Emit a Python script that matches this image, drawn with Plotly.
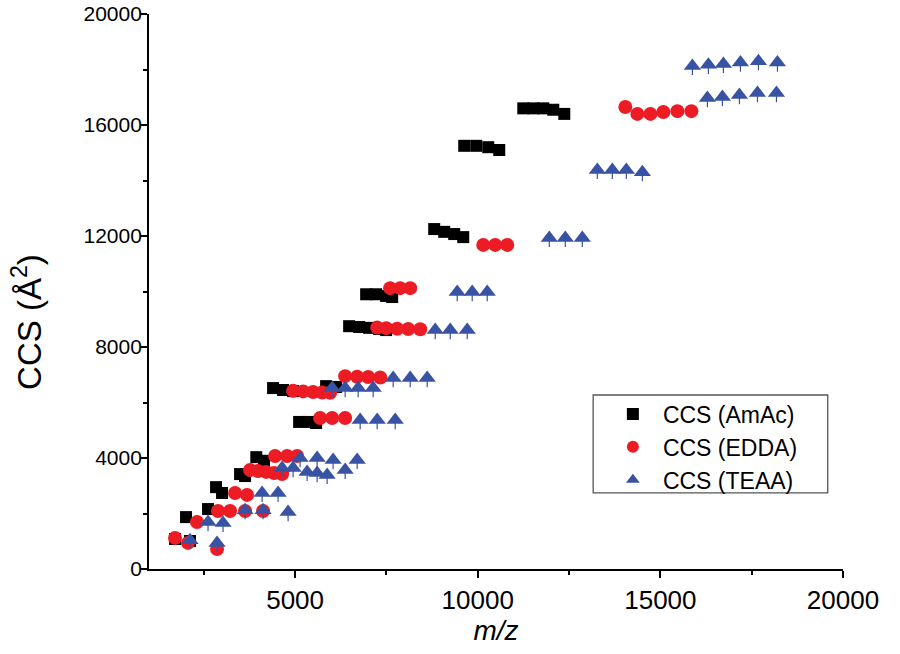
import plotly.graph_objects as go

# ---- data ----
amac_x = [11247, 11521, 11795, 12068, 12370,
          9630, 9959, 10288, 10589,
          8808, 9082, 9356, 9603,
          6945, 7219, 7493, 7658,
          6479, 6753, 7027, 7301, 7493,
          4397, 4671, 4945, 5849, 6123,
          5110, 5384, 5575,
          3938, 4151,
          3493, 3630,
          2836, 3000,
          2616,
          2014,
          1712, 2123]
amac_y = [16600, 16600, 16600, 16550, 16400,
          15250, 15250, 15200, 15100,
          12250, 12150, 12070, 11960,
          9900, 9900, 9840, 9800,
          8750, 8720, 8690, 8650, 8610,
          6520, 6450, 6410, 6590, 6560,
          5300, 5300, 5260,
          4030, 3900,
          3420, 3350,
          2950, 2740,
          2160,
          1870,
          1080, 1010]

edda_x = [14041, 14370, 14726, 15082, 15466, 15849,
          10151, 10479, 10808,
          7603, 7877, 8151,
          7247, 7493, 7795, 8096, 8425,
          6370, 6699, 7000, 7329,
          4945, 5219, 5493, 5740, 5959,
          5685, 6014, 6370,
          4452, 4781, 5055,
          3767, 3986, 4205, 4425, 4644,
          3356, 3685,
          2890, 3219, 3630, 4123,
          2315,
          1712, 2068,
          2863]
edda_y = [16650, 16400, 16400, 16470, 16500, 16500,
          11680, 11680, 11680,
          10120, 10120, 10120,
          8700, 8680, 8660, 8650, 8640,
          6950, 6930, 6920, 6900,
          6420, 6400, 6380, 6360, 6350,
          5440, 5440, 5440,
          4070, 4070, 4070,
          3570, 3530, 3500, 3460, 3420,
          2740, 2670,
          2090, 2090, 2090, 2090,
          1690,
          1120, 940,
          720]

teaa_x = [15877, 16315, 16726, 17192, 17685, 18205,
          16288, 16699, 17164, 17658, 18178,
          13274, 13685, 14068, 14507,
          11959, 12397, 12863,
          9438, 9849, 10260,
          8836, 9247, 9712,
          7685, 8151, 8616,
          6014, 6370, 6726, 7137,
          6781, 7247, 7740,
          5137, 5603, 6041, 6699,
          4644, 4945, 5329, 5603, 5877, 6370,
          4096, 4534,
          3630, 4123, 4808,
          2616, 3027,
          2123, 2863]
teaa_y = [18130, 18170, 18200, 18250, 18300, 18250,
          16970, 17010, 17080, 17150, 17150,
          14380, 14380, 14380, 14300,
          11930, 11930, 11930,
          9980, 9980, 9980,
          8610, 8610, 8610,
          6880, 6880, 6880,
          6520, 6520, 6520, 6520,
          5370, 5370, 5370,
          4000, 4000, 3930, 3930,
          3640, 3640, 3500, 3460, 3390, 3570,
          2740, 2740,
          2120, 2120, 2050,
          1690, 1660,
          1040, 940]

series_names = ["CCS (AmAc)", "CCS (EDDA)", "CCS (TEAA)"]
x_ticks = [5000, 10000, 15000, 20000]
y_ticks = [0, 4000, 8000, 12000, 16000, 20000]

FONT = "Arial, Liberation Sans, sans-serif"
BLACK = "#000000"
RED = "#ED1C24"
BLUE = "#3953A4"

fig = go.Figure()
fig.add_trace(go.Scatter(
    x=amac_x, y=amac_y, mode="markers", name=series_names[0],
    marker=dict(symbol="square", size=12, color=BLACK, line=dict(width=0))))
fig.add_trace(go.Scatter(
    x=edda_x, y=edda_y, mode="markers", name=series_names[1],
    marker=dict(symbol="circle", size=14, color=RED, line=dict(width=0))))
fig.add_trace(go.Scatter(
    x=teaa_x, y=teaa_y, mode="markers", name=series_names[2],
    marker=dict(symbol="triangle-up", size=15, color=BLUE, line=dict(width=0)),
    error_y=dict(type="data", symmetric=False, array=[0] * len(teaa_y),
                 arrayminus=[330] * len(teaa_y), width=0, thickness=1.2,
                 color=BLUE)))

axis_common = dict(
    showline=True, linecolor="black", linewidth=1.8, mirror=False,
    ticks="outside", ticklen=7, tickwidth=1.8, tickcolor="black",
    showgrid=False, zeroline=False, automargin=False,
)

fig.update_xaxes(
    range=[1000, 20000], tickvals=x_ticks, ticktext=[str(v) for v in x_ticks],
    tickfont=dict(family=FONT, size=26, color="black"),
    minor=dict(ticks="outside", ticklen=4, tickwidth=1.8, tickcolor="black",
               tickvals=[2500, 7500, 12500, 17500]),
    title=dict(text="<i>m/z</i>", font=dict(family=FONT, size=28, color="black"),
               standoff=6),
    **axis_common)
fig.update_yaxes(
    range=[0, 20000], tickvals=y_ticks, ticktext=[str(v) for v in y_ticks],
    tickfont=dict(family=FONT, size=21, color="black"),
    ticklabelstandoff=-6,
    minor=dict(ticks="outside", ticklen=4, tickwidth=1.8, tickcolor="black",
               tickvals=[2000, 6000, 10000, 14000, 18000]),
    **axis_common)

# y-axis title as a rotated annotation (sits a little below the axis middle)
fig.add_annotation(
    text="CCS (Å<sup>2</sup>)", textangle=-90, showarrow=False,
    xref="paper", yref="paper", x=-0.176, y=0.445,
    xanchor="center", yanchor="middle",
    font=dict(family=FONT, size=33, color="black"))

# legend frame drawn as a rectangle so it can be as wide as in the reference
fig.add_shape(type="rect", xref="paper", yref="paper",
              x0=0.640, x1=0.978, y0=0.137, y1=0.3135,
              line=dict(color="#555555", width=1.3), fillcolor="white",
              layer="above")

fig.update_layout(
    width=900, height=654,
    margin=dict(l=149, r=57, t=14, b=85, autoexpand=False),
    paper_bgcolor="white", plot_bgcolor="white",
    font=dict(family=FONT, color="black"),
    legend=dict(x=0.654, y=0.318, xanchor="left", yanchor="top",
                bgcolor="rgba(0,0,0,0)", borderwidth=0,
                font=dict(family=FONT, size=23, color="black"),
                itemwidth=50, itemsizing="constant", tracegroupgap=0),
)

fig.write_html("out.html", config={"displayModeBar": False},
               post_script="document.body.style.margin='0';document.body.style.padding='0';")
